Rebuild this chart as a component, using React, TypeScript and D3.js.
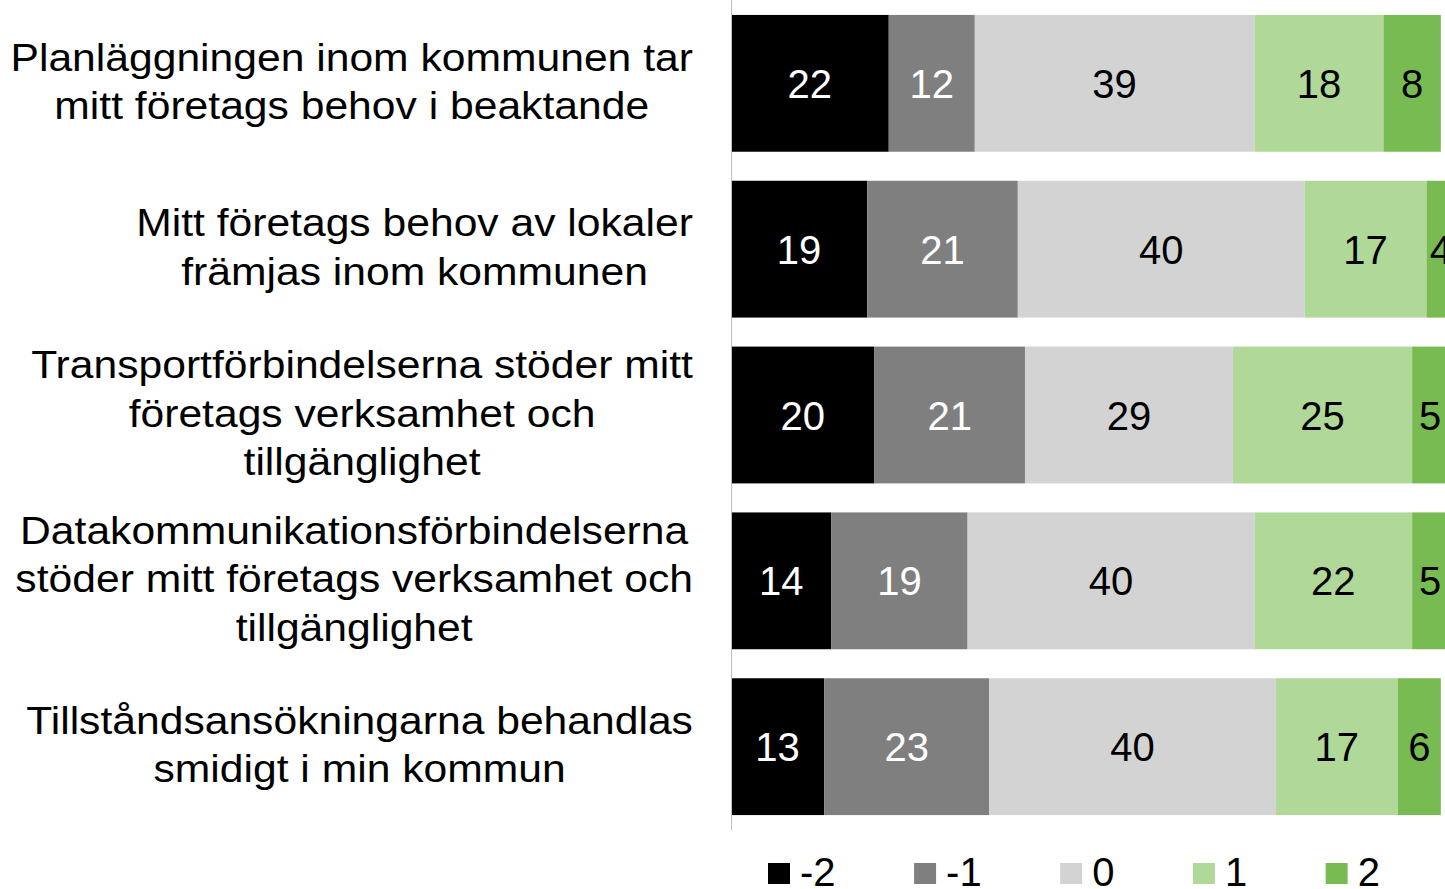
import React, { useEffect, useRef } from "react";
import * as d3 from "d3";

// Statements (each line of the label is its own entry)
const questions: string[][] = [
  ["Planläggningen inom kommunen tar", "mitt företags behov i beaktande"],
  ["Mitt företags behov av lokaler", "främjas inom kommunen"],
  ["Transportförbindelserna stöder mitt", "företags verksamhet och", "tillgänglighet"],
  ["Datakommunikationsförbindelserna", "stöder mitt företags verksamhet och", "tillgänglighet"],
  ["Tillståndsansökningarna behandlas", "smidigt i min kommun"],
];

const scaleKeys = ["-2", "-1", "0", "1", "2"];

// Share of answers per scale step, one array per step
const valuesM2 = [22, 19, 20, 14, 13];
const valuesM1 = [12, 21, 21, 19, 23];
const values0 = [39, 40, 29, 40, 40];
const valuesP1 = [18, 17, 25, 22, 17];
const valuesP2 = [8, 4, 5, 5, 6];

const colors = ["#000000", "#7f7f7f", "#d3d3d3", "#b0d898", "#78bb53"];
const textColors = ["#ffffff", "#ffffff", "#000000", "#000000", "#000000"];

const W = 1445;
const H = 889;
const FONT = "'Liberation Sans', Arial, sans-serif";
// the category labels in the original are a bit wider than plain Arial
const STRETCH = 1.122;

const App = () => {
  const ref = useRef<SVGSVGElement>(null);

  useEffect(() => {
    const rows = questions.map((q, i) => ({
      q,
      i,
      "-2": valuesM2[i],
      "-1": valuesM1[i],
      "0": values0[i],
      "1": valuesP1[i],
      "2": valuesP2[i],
    }));

    const svg = d3.select(ref.current).html("");

    const x = d3.scaleLinear().domain([0, 100]).range([731, 1448]);
    const y = d3
      .scaleBand<number>()
      .domain(d3.range(questions.length))
      .range([0, 830])
      .paddingInner(0.175)
      .paddingOuter(0.09);

    const stack = d3.stack<any>().keys(scaleKeys)(rows);

    // Bars
    stack.forEach((layer, k) => {
      const g = svg.append("g");
      g.selectAll("rect")
        .data(layer)
        .join("rect")
        .attr("x", (d) => x(d[0]))
        .attr("y", (_, i) => y(i)!)
        .attr("width", (d) => x(d[1]) - x(d[0]))
        .attr("height", y.bandwidth())
        .attr("fill", colors[k]);

      g.selectAll("text")
        .data(layer)
        .join("text")
        .attr("x", (d) => (x(d[0]) + x(d[1])) / 2)
        .attr("y", (_, i) => y(i)! + y.bandwidth() / 2 + 14.5)
        .attr("text-anchor", "middle")
        .attr("fill", textColors[k])
        .style("font-family", FONT)
        .style("font-size", "40px")
        .text((d) => d[1] - d[0]);
    });

    // Axis line
    svg
      .append("line")
      .attr("x1", 731.5)
      .attr("x2", 731.5)
      .attr("y1", 0)
      .attr("y2", 830)
      .attr("stroke", "#bfbfbf")
      .attr("stroke-width", 1);

    // Category labels: block right aligned, lines centered in the block
    const lineH = 48.5;
    questions.forEach((q, i) => {
      const g = svg.append("g");
      const texts = g
        .selectAll("text")
        .data(q)
        .join("text")
        .style("font-family", FONT)
        .style("font-size", "38px")
        .attr("fill", "#000")
        .attr("text-anchor", "middle")
        .text((d) => d);
      let maxW = 0;
      texts.each(function () {
        maxW = Math.max(maxW, (this as SVGTextElement).getComputedTextLength());
      });
      const cx = 693 - (maxW * STRETCH) / 2;
      const cy = y(i)! + y.bandwidth() / 2;
      texts.attr(
        "transform",
        (_, j) =>
          `translate(${cx},${cy + (j - (q.length - 1) / 2) * lineH + 11.5}) scale(${STRETCH},1)`
      );
    });

    // Legend
    let lx = 768;
    scaleKeys.forEach((k, i) => {
      svg
        .append("rect")
        .attr("x", lx)
        .attr("y", 863)
        .attr("width", 22)
        .attr("height", 21)
        .attr("fill", colors[i]);
      const t = svg
        .append("text")
        .attr("x", lx + 32)
        .attr("y", 886)
        .style("font-family", FONT)
        .style("font-size", "40px")
        .text(k);
      lx += 32 + (t.node() as SVGTextElement).getComputedTextLength() + 78.5;
    });
  }, []);

  return (
    <svg
      ref={ref}
      width={W}
      height={H}
      style={{ position: "absolute", left: 0, top: 0, background: "#fff" }}
    />
  );
};

export default App;
